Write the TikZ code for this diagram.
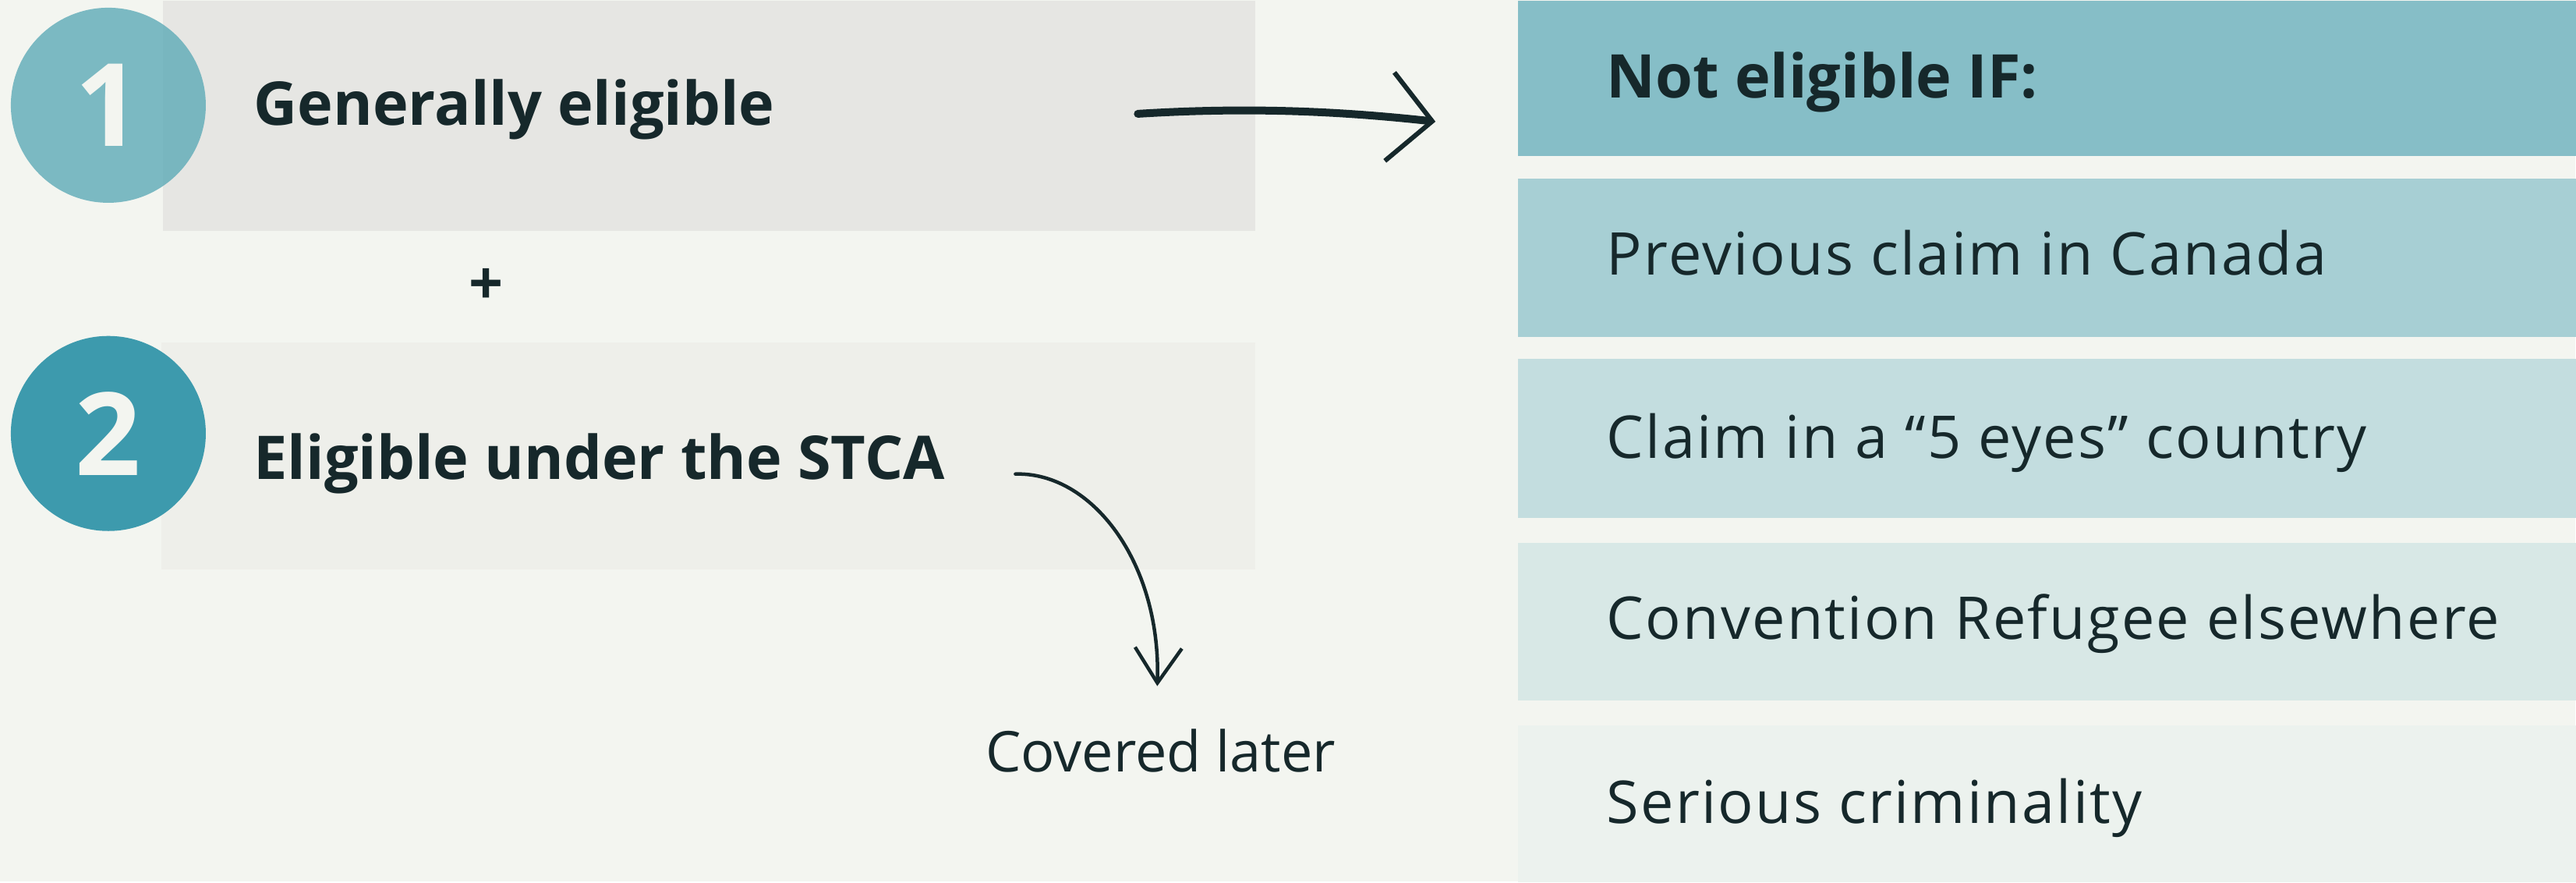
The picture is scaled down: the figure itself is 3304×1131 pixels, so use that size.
\documentclass[tikz,border=0pt]{standalone}
\usepackage{fontspec}
\setmainfont{Open Sans}
\usetikzlibrary{arrows.meta}
\definecolor{bg}{HTML}{F3F5F0}
\definecolor{ink}{HTML}{16282B}
\definecolor{boxa}{HTML}{E6E6E3}
\definecolor{boxb}{HTML}{EEEFEA}
\definecolor{numa}{HTML}{5DAAB7}
\definecolor{numb}{HTML}{3D9AAD}
\definecolor{head}{HTML}{86BEC7}
\definecolor{rowa}{HTML}{A7CFD4}
\definecolor{rowb}{HTML}{C3DDDF}
\definecolor{rowc}{HTML}{D8E8E6}
\definecolor{rowd}{HTML}{ECF2EE}
\begin{document}
\begin{tikzpicture}[x=0.01cm,y=-0.01cm]
							\tikzstyle{box}=[rectangle,inner sep=0pt,anchor=north west]
							\tikzstyle{row}=[box,minimum width=13.57cm]
							\tikzstyle{txt}=[inner sep=0pt,anchor=base west,text=ink]
							\tikzstyle{big}=[txt,font=\bfseries\fontsize{22}{26}\selectfont]
							\tikzstyle{small}=[txt,font=\fontsize{21.5}{25}\selectfont\addfontfeature{LetterSpace=3}]
							\tikzstyle{num}=[circle,minimum size=2.5cm,inner sep=0pt,text=bg,text opacity=1,font=\bfseries\fontsize{42}{42}\selectfont]
							\tikzstyle{hand}=[draw=ink,line cap=round]
							\fill[bg] (0,0) rectangle (3304,1131);
							\node[box,fill=boxa,minimum width=14.01cm,minimum height=2.95cm] (b1) at (208,0) {};
							\node[box,fill=boxb,minimum width=14.03cm,minimum height=2.9cm] (b2) at (206,439) {};
							\node[num,fill=numa,fill opacity=0.8] (1) at (139,135) {1};
							\node[num,fill=numb] (2) at (139,556) {2};
							\node[big] (t1) at (325,161) {Generally eligible};
							\node[big] (t2) at (325,615) {Eligible under the STCA};
							\node[text=ink,inner sep=0pt,font=\bfseries\fontsize{22}{26}\selectfont] (p) at (624,368) {+};
							\node[txt,font=\fontsize{20.5}{24}\selectfont] (t3) at (1264,990) {Covered later};
							\node[row,fill=head,minimum height=1.99cm] (h) at (1947,0) {};
							\node[row,fill=rowa,minimum height=2.03cm] (r1) at (1947,228) {};
							\node[row,fill=rowb,minimum height=2.03cm] (r2) at (1947,460) {};
							\node[row,fill=rowc,minimum height=2.02cm] (r3) at (1947,696) {};
							\node[row,fill=rowd,minimum height=2.01cm] (r4) at (1947,930) {};
							\node[big] (h0) at (2061,126) {Not eligible IF:};
							\node[small] (h1) at (2061,353) {Previous claim in Canada};
							\node[small] (h2) at (2061,588) {Claim in a “5 eyes” country};
							\node[small] (h3) at (2061,820) {Convention Refugee elsewhere};
							\node[small] (h4) at (2061,1056) {Serious criminality};
							\coordinate (s1) at (1460,146);
							\coordinate (e1) at (1842,156);
							\coordinate (s2) at (1303,608);
							\coordinate (e2) at (1485,880);
							\draw[hand,line width=0.1cm,-{Straight Barb[length=5.5mm,width=11.4mm,line width=0.06cm]}] (s1) .. controls (1620,136) and (1740,145) .. (e1);
							\draw[hand,line width=0.045cm,-{Straight Barb[length=4.5mm,width=6mm]}] (s2) .. controls (1400,605) and (1490,720) .. (e2);
							\end{tikzpicture}
\end{document}
